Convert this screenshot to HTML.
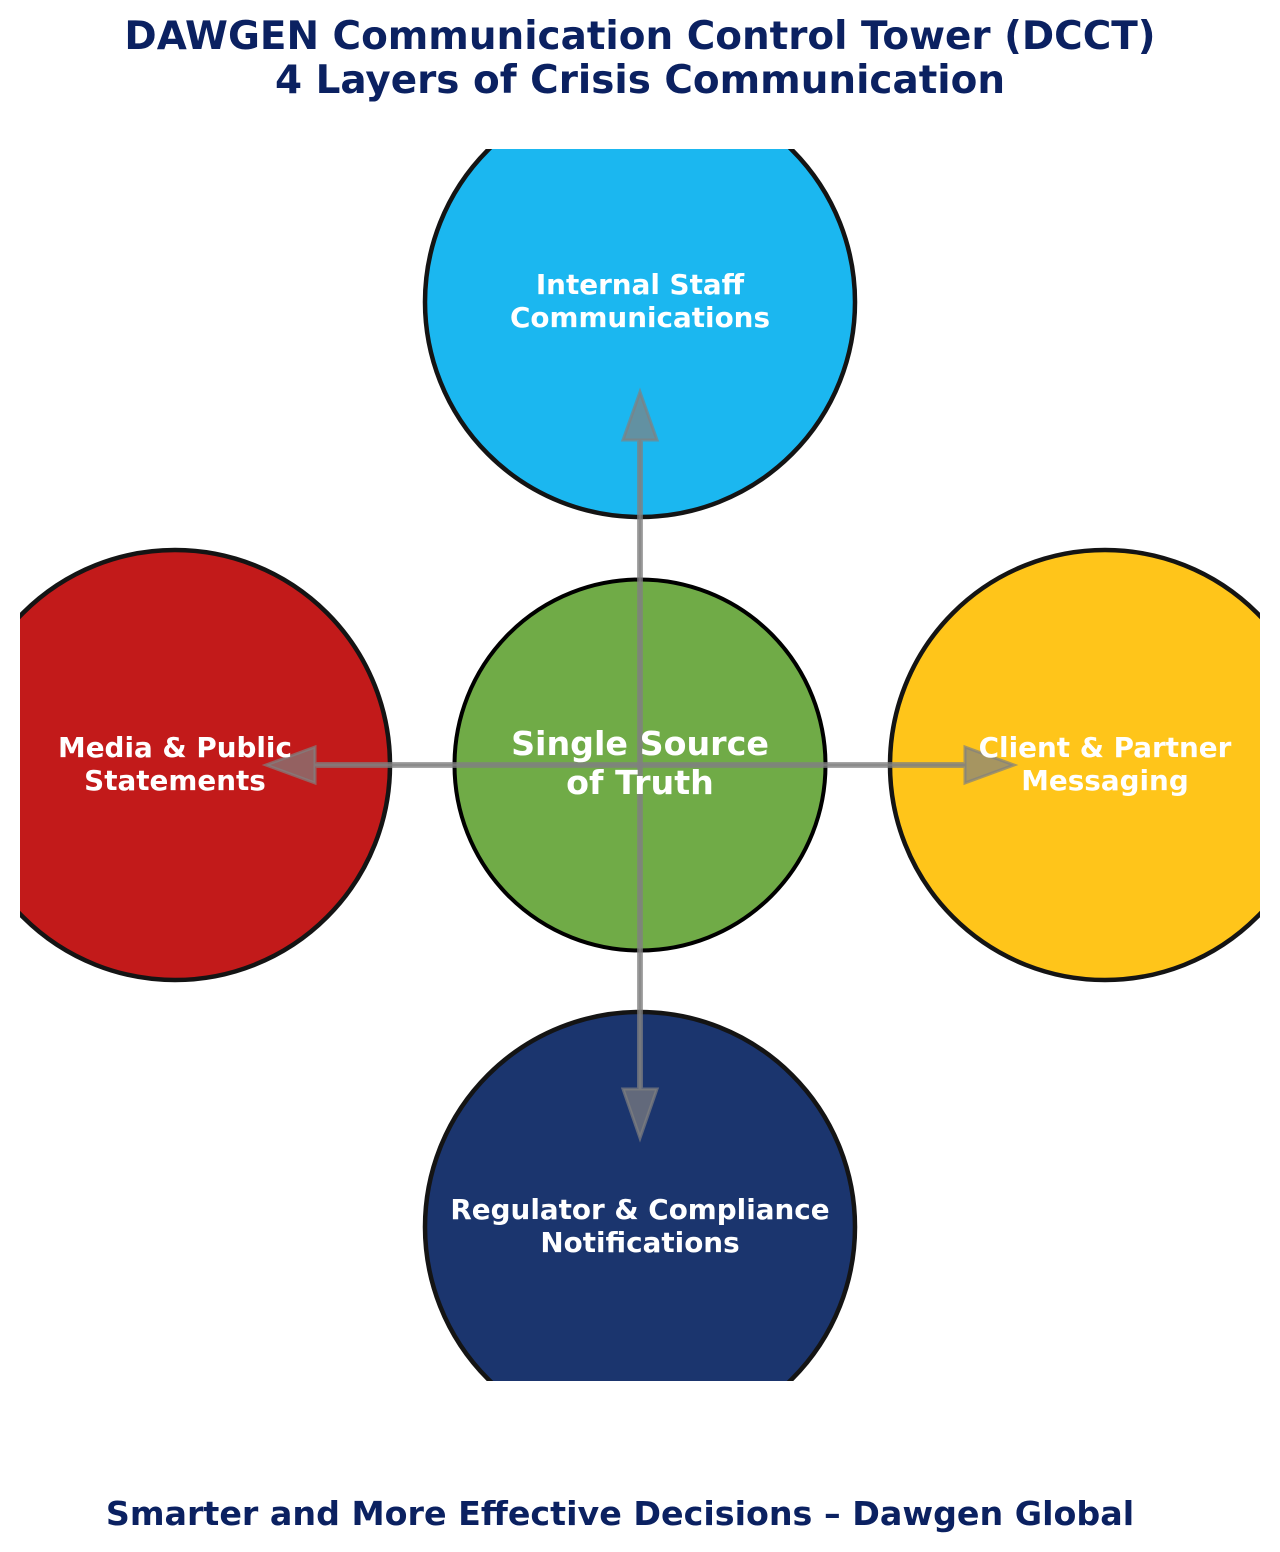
<!DOCTYPE html>
<html>
<head>
<meta charset="utf-8">
<style>
  html, body { margin: 0; padding: 0; background: #ffffff; }
  body { width: 1280px; height: 1552px; overflow: hidden; }
  svg { display: block; }
  text { font-family: "DejaVu Sans", "Liberation Sans", sans-serif; font-weight: bold; }
</style>
</head>
<body>
<svg width="1280" height="1552" viewBox="0 0 1280 1552" xmlns="http://www.w3.org/2000/svg">
  <defs>
    <clipPath id="ax">
      <rect x="20" y="149" width="1240" height="1232"/>
    </clipPath>
  </defs>
  <rect x="0" y="0" width="1280" height="1552" fill="#ffffff"/>

  <!-- Title -->
  <text x="640" y="49" text-anchor="middle" font-size="38.9" fill="#0b2161">DAWGEN Communication Control Tower (DCCT)</text>
  <text x="640" y="93" text-anchor="middle" font-size="38.9" fill="#0b2161">4 Layers of Crisis Communication</text>

  <g clip-path="url(#ax)">
    <!-- Outer circles -->
    <circle cx="640" cy="302" r="215" fill="#1bb7f0" stroke="#141414" stroke-width="4.5"/>
    <circle cx="175" cy="765" r="215" fill="#c21a1a" stroke="#141414" stroke-width="4.5"/>
    <circle cx="1105" cy="765" r="215" fill="#ffc51a" stroke="#141414" stroke-width="4.5"/>
    <circle cx="640" cy="1227" r="215" fill="#1b356e" stroke="#141414" stroke-width="4.5"/>
    <!-- Center circle -->
    <circle cx="640" cy="765" r="185.5" fill="#70ab47" stroke="#000000" stroke-width="4"/>

    <!-- Arrows -->
    <g fill="#808080" fill-opacity="0.7" stroke="#808080" stroke-opacity="0.7" stroke-width="3" stroke-linejoin="miter">
      <!-- up -->
      <polygon points="638.5,765 638.5,440 623,440 640,392 657,440 641.5,440 641.5,765"/>
      <!-- down -->
      <polygon points="638.5,765 638.5,1089 623,1089 640,1138 657,1089 641.5,1089 641.5,765"/>
      <!-- left -->
      <polygon points="640,763.5 315,763.5 315,747 266,765 315,783 315,766.5 640,766.5"/>
      <!-- right -->
      <polygon points="640,763.5 965,763.5 965,747 1014,765 965,783 965,766.5 640,766.5"/>
    </g>
  </g>

  <!-- Labels -->
  <g fill="#ffffff" text-anchor="middle">
    <text x="640" y="294" font-size="27.8">Internal Staff</text>
    <text x="640" y="327" font-size="27.8">Communications</text>

    <text x="175" y="757" font-size="27.8">Media &amp; Public</text>
    <text x="175" y="790" font-size="27.8">Statements</text>

    <text x="1105" y="757" font-size="27.8">Client &amp; Partner</text>
    <text x="1105" y="790" font-size="27.8">Messaging</text>

    <text x="640" y="1219" font-size="27.8">Regulator &amp; Compliance</text>
    <text x="640" y="1252" font-size="27.8">Notifications</text>

    <text x="640" y="755" font-size="33.3">Single Source</text>
    <text x="640" y="794" font-size="33.3">of Truth</text>
  </g>

  <!-- Footer -->
  <text x="620" y="1525" text-anchor="middle" font-size="33.3" fill="#0b2161">Smarter and More Effective Decisions – Dawgen Global</text>
</svg>
</body>
</html>
